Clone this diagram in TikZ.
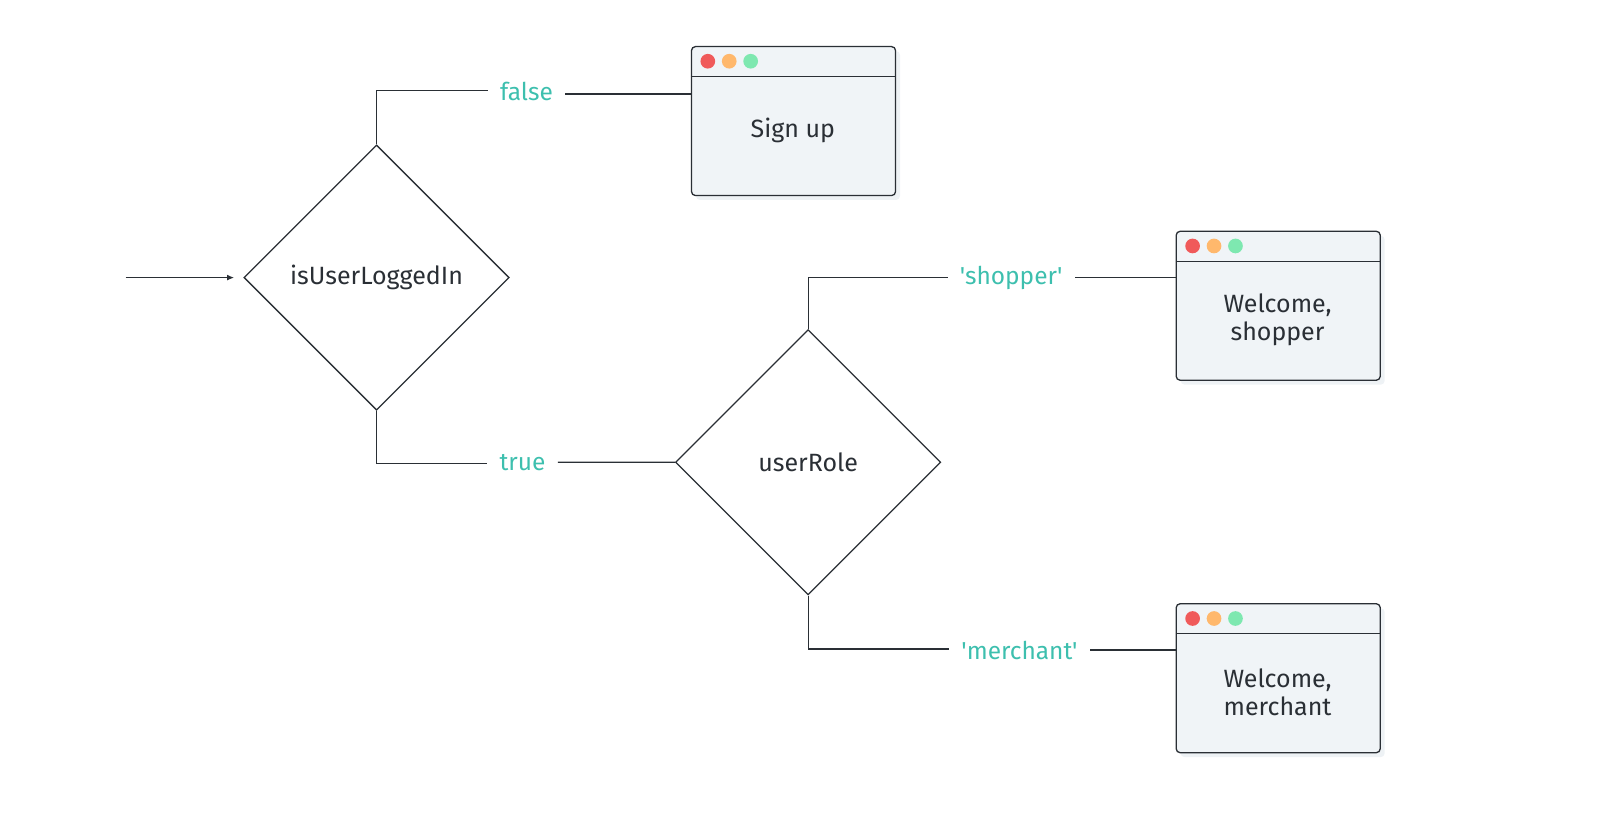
\documentclass[tikz,border=0pt]{standalone}
\usepackage{fontspec}
\newfontfamily\dfont{Fira Sans}
\usetikzlibrary{shapes.geometric,arrows.meta}
\definecolor{ink}{HTML}{2A2F35}
\definecolor{teal}{HTML}{3DBFAE}
\definecolor{boxfill}{HTML}{F0F4F7}
\definecolor{shadowc}{HTML}{EEF2F5}
\definecolor{dotred}{HTML}{F05A5A}
\definecolor{dotorange}{HTML}{FFB86C}
\definecolor{dotgreen}{HTML}{7EE8B0}
\tikzset{
  conn/.style={draw=ink, line width=1.3pt},
  decision/.style={diamond, draw=ink, line width=1.3pt, minimum width=260pt, minimum height=260pt, inner sep=0pt, aspect=1, font=\dfont\fontsize{24.5}{28}\selectfont, text=ink},
  lbl/.style={inner xsep=12pt, inner ysep=2pt, font=\dfont\fontsize{24}{28}\selectfont, text=teal},
  window/.style={rectangle, draw=ink, fill=boxfill, line width=1.3pt, rounded corners=4pt, minimum width=200pt, minimum height=146pt, inner sep=0pt},
  wtext/.style={font=\dfont\fontsize{24.5}{28}\selectfont, text=ink, align=center},
}
\begin{document}
\begin{tikzpicture}[x=1pt,y=-1pt]
\useasboundingbox (0,0) rectangle (1600,824);
\begin{scope}[scale=1.0204, transform shape]
% window shadows
\foreach \xx/\yy in {677/45, 1152/226, 1152/591}{
  \fill[shadowc, rounded corners=4pt] (\xx+5,\yy+5) rectangle ++(200,146);
}
\node[window, anchor=north west] (sb) at (677,45) {};
\node[window, anchor=north west] (ws) at (1152,226) {};
\node[window, anchor=north west] (wm) at (1152,591) {};
\foreach \w in {sb,ws,wm}{
  \draw[conn] ([yshift=-30pt]\w.north west) -- ([yshift=-30pt]\w.north east);
  \fill[dotred] ([xshift=16.5pt,yshift=-15pt]\w.north west) circle (7.2pt);
  \fill[dotorange] ([xshift=37.5pt,yshift=-15pt]\w.north west) circle (7.2pt);
  \fill[dotgreen] ([xshift=58.5pt,yshift=-15pt]\w.north west) circle (7.2pt);
}
\node[wtext] (tsb) at (777,127.5) {Sign up};
\node[wtext] (tws) at (1252,313.5) {Welcome,\\shopper};
\node[wtext] (twm) at (1252,678.5) {Welcome,\\merchant};
% decisions
\node[decision] (d1) at (369,272) {isUserLoggedIn};
\node[decision] (d2) at (792,453) {userRole};
% start arrow
\coordinate (start) at (123,272);
\draw[conn, -{Latex[length=7pt,width=6pt]}] (start) -- ([xshift=-9pt]d1.west);
% labels
\node[lbl] (lf) at (516,90) {false};
\node[lbl] (lt) at (512,453) {true};
\node[lbl] (ls) at (991,272) {'shopper'};
\node[lbl] (lm) at (999,637) {'merchant'};
% connectors
\draw[conn] (d1.north) |- (lf.west |- 0,89);
\draw[conn] (lf.east |- 0,92) -- (sb.west |- 0,92);
\draw[conn] (d1.south) |- (lt.west |- 0,454);
\draw[conn] (lt.east |- 0,453) -- (d2.west);
\draw[conn] (d2.north) |- (ls.west |- 0,272);
\draw[conn] (ls.east |- 0,272) -- (ws.west |- 0,272);
\draw[conn] (d2.south) |- (lm.west |- 0,636);
\draw[conn] (lm.east |- 0,637) -- (wm.west |- 0,637);
\end{scope}
\end{tikzpicture}
\end{document}
